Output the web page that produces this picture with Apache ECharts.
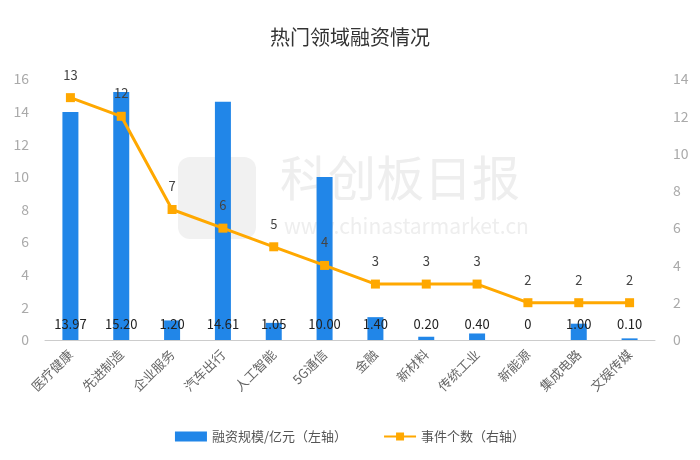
<!DOCTYPE html>
<html>
<head>
<meta charset="utf-8">
<script src="https://cdn.jsdelivr.net/npm/echarts@6/dist/echarts.min.js"></script>
<style>html,body{margin:0;padding:0;background:#fff}#c{width:700px;height:460px}</style>
</head>
<body>
<div id="c"></div>
<script>
var categories = ['医疗健康','先进制造','企业服务','汽车出行','人工智能','5G通信','金融','新材料','传统工业','新能源','集成电路','文娱传媒'];
var amounts = [13.97, 15.20, 1.20, 14.61, 1.05, 10.00, 1.40, 0.20, 0.40, 0, 1.00, 0.10];
var amountLabels = ['13.97','15.20','1.20','14.61','1.05','10.00','1.40','0.20','0.40','0','1.00','0.10'];
var events = [13, 12, 7, 6, 5, 4, 3, 3, 3, 2, 2, 2];
var leftTicks = [0, 16, 2];
var rightTicks = [0, 14, 2];

var chart = echarts.init(document.getElementById('c'));
var font = '"Noto Sans CJK SC", "Noto Sans", sans-serif';
chart.setOption({
  backgroundColor: '#fff',
  textStyle: { fontFamily: font },
  title: {
    text: '热门领域融资情况', left: 'center', top: 22,
    textStyle: { fontSize: 20, fontWeight: 'normal', color: '#333', fontFamily: font }
  },
  graphic: [
    { type: 'rect', left: 178, top: 157, shape: { width: 78, height: 82, r: 12 }, style: { fill: '#f1f1f1' }, z: -10 },
    { type: 'text', left: 280, top: 154, style: { text: '科创板日报', fontSize: 48, fill: '#eeeeee', fontFamily: font }, z: -10 },
    { type: 'text', left: 284, top: 216, style: { text: 'www.chinastarmarket.cn', fontSize: 21, fill: '#eeeeee', fontFamily: font }, z: -10 }
  ],
  legend: {
    bottom: 12, left: 'center', itemGap: 36, itemWidth: 32, itemHeight: 10,
    textStyle: { fontSize: 13, color: '#555', fontFamily: font },
    data: [
      { name: '融资规模/亿元（左轴）', icon: 'rect' },
      { name: '事件个数（右轴）' }
    ]
  },
  grid: { left: 45, right: 45, top: 79, bottom: 120, containLabel: false },
  xAxis: {
    type: 'category', data: categories,
    axisLine: { lineStyle: { color: '#cccccc' } },
    axisTick: { show: false },
    axisLabel: { rotate: 45, fontSize: 13, color: '#666', margin: 12, interval: 0 }
  },
  yAxis: [
    {
      type: 'value', min: leftTicks[0], max: leftTicks[1], interval: leftTicks[2],
      splitLine: { show: false }, axisLine: { show: false }, axisTick: { show: false },
      axisLabel: { fontSize: 14, color: '#aaa', margin: 16 }
    },
    {
      type: 'value', min: rightTicks[0], max: rightTicks[1], interval: rightTicks[2],
      splitLine: { show: false }, axisLine: { show: false }, axisTick: { show: false },
      axisLabel: { fontSize: 14, color: '#aaa', margin: 18 }
    }
  ],
  series: [
    {
      name: '融资规模/亿元（左轴）', type: 'bar', yAxisIndex: 0, data: amounts,
      barWidth: 16,
      itemStyle: { color: '#2186e8' },
      label: {
        show: true, position: 'insideBottom', distance: 9,
        fontSize: 13, color: '#222',
        formatter: function (p) { return amountLabels[p.dataIndex]; }
      }
    },
    {
      name: '事件个数（右轴）', type: 'line', yAxisIndex: 1, data: events,
      symbol: 'rect', symbolSize: 9,
      lineStyle: { color: '#ffa800', width: 3 },
      itemStyle: { color: '#ffa800' },
      label: { show: true, position: 'top', distance: 12, fontSize: 13, color: '#444' }
    }
  ]
});
</script>
</body>
</html>
